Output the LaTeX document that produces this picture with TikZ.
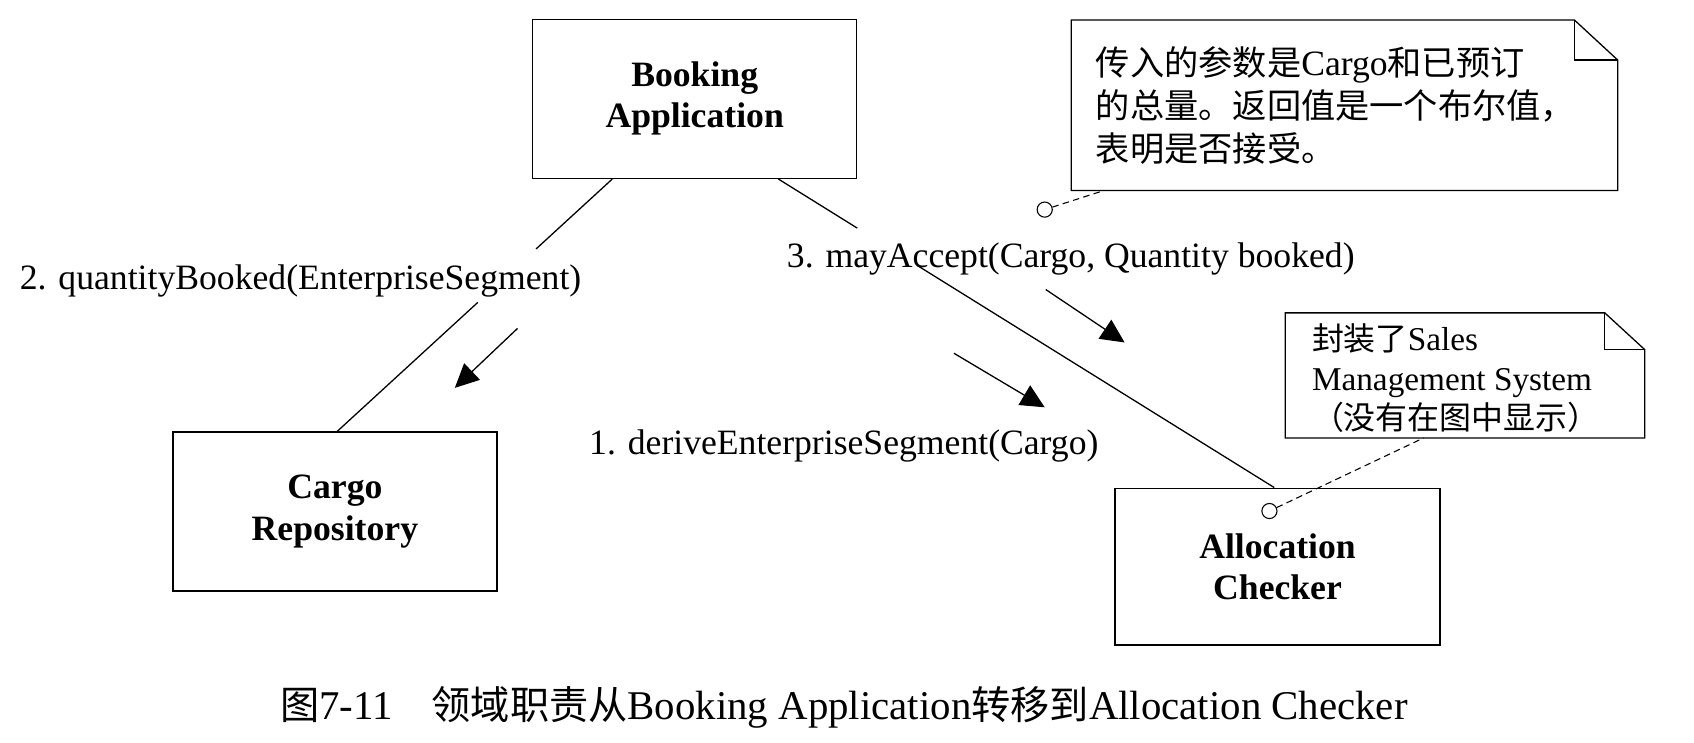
\documentclass[tikz,border=0pt]{standalone}
\usepackage{fontspec}
\setmainfont{Liberation Serif}
\newfontfamily\cjk{Noto Sans CJK SC}[Scale=0.96]
\usetikzlibrary{arrows.meta,calc}
\begin{document}
\begin{tikzpicture}[x=0.5pt,y=-0.5pt,
  objbox/.style={draw,line width=0.7pt,minimum width=150pt,minimum height=73.5pt,align=center,font=\fontsize{16.5}{19}\selectfont\bfseries,inner sep=0pt},
  msg/.style={font=\fontsize{16.5}{19}\selectfont,inner sep=0pt,anchor=west},
  link/.style={line width=0.6pt},
  msgarrow/.style={line width=0.6pt,-{Triangle[length=11pt,width=10.5pt]}},
  notebody/.style={inner sep=0pt},
  notetext/.style={font=\fontsize{16.5}{20}\selectfont,align=left,inner sep=0pt,anchor=west},
  smallnotetext/.style={font=\fontsize{15.4}{18.4}\selectfont,align=left,inner sep=0pt,anchor=west},
  anchorcirc/.style={draw,circle,minimum size=7pt,inner sep=0pt,line width=0.5pt,fill=white},
  notelink/.style={line width=0.5pt,dash pattern=on 3pt off 2pt},
  noteline/.style={line width=0.6pt}
]
\useasboundingbox (0,0) rectangle (1568,687);

% objects
\node[objbox] (bk) at (643,91.5) {Booking\\Application};
\node[objbox] (cr) at (310,473.5) {Cargo\\Repository};
\node[objbox,minimum width=150.5pt,minimum height=72.5pt] (ac) at (1182.5,524.5) {Allocation\\Checker};

% links (broken by labels)
\coordinate (b1) at ($(bk.south west)!0.247!(bk.south east)$);
\coordinate (c1) at ($(cr.north west)!0.507!(cr.north east)$);
\coordinate (b2) at ($(bk.south west)!0.757!(bk.south east)$);
\coordinate (a2) at ($(ac.north west)!0.49!(ac.north east)$);
\draw[link] (b1) -- ($(b1)!0.277!(c1)$);
\draw[link] ($(b1)!0.489!(c1)$) -- (c1);
\draw[link] (b2) -- ($(b2)!0.159!(a2)$);
\draw[link] ($(b2)!0.28!(a2)$) -- (a2);

% message labels
\node[msg] (m2) at (18,260) {2. quantityBooked(EnterpriseSegment)};
\node[msg] (m3) at (728,240) {3. mayAccept(Cargo, Quantity booked)};
\node[msg] (m1) at (545,413) {1. deriveEnterpriseSegment(Cargo)};

% message arrows
\coordinate (p2s) at (479,304); \coordinate (p2e) at (421,359);
\coordinate (p3s) at (968,268); \coordinate (p3e) at (1041,317);
\coordinate (p1s) at (883,327); \coordinate (p1e) at (967,377);
\draw[msgarrow] (p2s) -- (p2e);
\draw[msgarrow] (p3s) -- (p3e);
\draw[msgarrow] (p1s) -- (p1e);

% note 1
\node[notebody,minimum width=252.5pt,minimum height=78.5pt] (n1) at (1244.5,97.5) {};
\draw[noteline] (n1.south west) -- (n1.north west) -- ($(n1.north east)+(-40,0)$) -- ($(n1.north east)+(0,37)$) -- (n1.south east) -- cycle;
\draw[noteline] ($(n1.north east)+(-40,0)$) -- ($(n1.north east)+(-40,37)$) -- ($(n1.north east)+(0,37)$);
\node[notetext] (t1) at (1014,97.5) {{\cjk 传入的参数是}Cargo{\cjk 和已预订}\\{\cjk 的总量。返回值是一个布尔值，}\\{\cjk 表明是否接受。}};

% note 2
\node[notebody,minimum width=166pt,minimum height=57.5pt] (n2) at (1356,347.5) {};
\draw[noteline] (n2.south west) -- (n2.north west) -- ($(n2.north east)+(-37,0)$) -- ($(n2.north east)+(0,34)$) -- (n2.south east) -- cycle;
\draw[noteline] ($(n2.north east)+(-37,0)$) -- ($(n2.north east)+(-37,34)$) -- ($(n2.north east)+(0,34)$);
\node[smallnotetext] (t2) at (1214,350) {{\cjk 封装了}Sales\\Management System\\{\cjk （没有在图中显示）}};

% note anchors
\node[anchorcirc] (o1) at (967,194) {};
\coordinate (n1a) at ($(n1.south west)+(30,0)$);
\draw[notelink] (o1) -- (n1a);
\node[anchorcirc] (o2) at (1175,473) {};
\coordinate (n2a) at ($(n2.south west)+(128,0)$);
\draw[notelink] (o2) -- (n2a);

% caption
\node[font=\fontsize{18.9}{21}\selectfont,inner sep=0pt,anchor=west] (cap) at (259,655) {{\cjk 图}7-11\hspace{18pt}{\cjk 领域职责从}Booking Application{\cjk 转移到}Allocation Checker};
\end{tikzpicture}
\end{document}
